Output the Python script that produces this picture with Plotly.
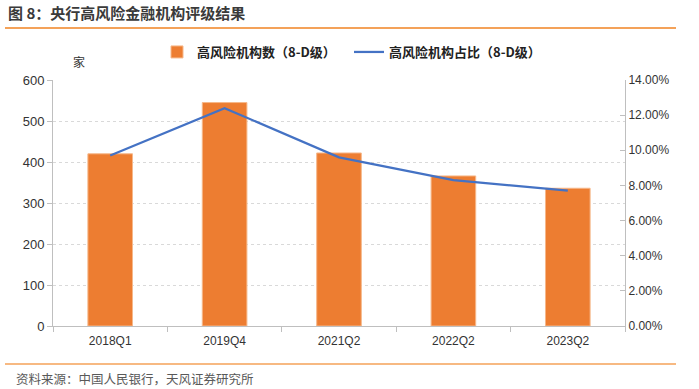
import plotly.graph_objects as go

categories = ["2018Q1", "2019Q4", "2021Q2", "2022Q2", "2023Q2"]
counts = [420, 545, 422, 366, 336]
ratios = [9.7, 12.4, 9.6, 8.3, 7.7]
left_ticks = [0, 100, 200, 300, 400, 500, 600]
right_ticks = [0, 2, 4, 6, 8, 10, 12, 14]
right_tick_labels = [f"{v:.2f}%" for v in right_ticks]

FONT = "Liberation Sans, Arial, Noto Sans CJK SC, sans-serif"
CJK = "Noto Sans CJK SC, Liberation Sans, sans-serif"
ORANGE = "#ED7D31"
BLUE = "#4472C4"
LINE_ORANGE = "#F4A259"

fig = go.Figure()
fig.add_trace(go.Bar(
    x=categories, y=counts, name="高风险机构数（8-D级）",
    marker=dict(color=ORANGE, line=dict(color="#F6B88A", width=1)),
    width=0.39, yaxis="y"
))
fig.add_trace(go.Scatter(
    x=categories, y=ratios, name="高风险机构占比（8-D级）",
    mode="lines", line=dict(color=BLUE, width=2.25), yaxis="y2"
))

L, R, T, B = 53, 625, 80, 326
W, H = R - L, B - T

def px(x):
    return (x - L) / W

def py(y):
    return (B - y) / H

fig.update_layout(
    width=699, height=389,
    margin=dict(l=L, r=699 - R, t=T, b=389 - B),
    paper_bgcolor="white", plot_bgcolor="white",
    font=dict(family=FONT, size=12, color="#333333"),
    showlegend=True,
    legend=dict(orientation="h", x=px(157), xanchor="left", y=py(52), yanchor="middle",
                font=dict(family=CJK, size=13, color="#222222", weight="bold"),
                entrywidth=147, entrywidthmode="pixels",
                itemwidth=30, tracegroupgap=0, bgcolor="rgba(0,0,0,0)"),
    xaxis=dict(
        type="category", tickson="boundaries", ticks="outside", ticklen=5,
        tickcolor="#BFBFBF", showline=True, linecolor="#BFBFBF", linewidth=1,
        tickfont=dict(family=FONT, size=12, color="#333333"), showgrid=False,
        ticklabelstandoff=4, range=[-0.5, 4.5]
    ),
    yaxis=dict(
        range=[0, 600], tickvals=left_ticks, ticks="outside", ticklen=5,
        tickcolor="#BFBFBF", showline=True, linecolor="#BFBFBF", linewidth=1,
        showgrid=True, gridcolor="#D9D9D9", griddash="dot", gridwidth=1,
        tickfont=dict(family=FONT, size=13, color="#333333"), zeroline=False
    ),
    yaxis2=dict(
        range=[0, 14], tickvals=right_ticks, ticktext=right_tick_labels,
        overlaying="y", side="right", ticks="inside", ticklen=5,
        tickcolor="#BFBFBF", showline=True, linecolor="#BFBFBF", linewidth=1,
        showgrid=False, zeroline=False,
        tickfont=dict(family=FONT, size=12, color="#333333")
    ),
    title=dict(text="<b>图 8：央行高风险金融机构评级结果</b>", x=8 / 699, xanchor="left",
               xref="container", y=1 - 14 / 389, yanchor="middle", yref="container",
               font=dict(family=CJK, size=15, color="#3A3A3A")),
    shapes=[
        dict(type="line", xref="paper", yref="paper", x0=px(5), x1=px(676), y0=py(28), y1=py(28),
             line=dict(color=LINE_ORANGE, width=2)),
        dict(type="line", xref="paper", yref="paper", x0=px(5), x1=px(676), y0=py(364), y1=py(364),
             line=dict(color=LINE_ORANGE, width=1.5)),
    ],
    annotations=[
        dict(text="家", xref="paper", yref="paper", x=px(79), y=py(62), showarrow=False,
             font=dict(family=CJK, size=12, color="#333333"), xanchor="center", yanchor="middle"),
        dict(text="资料来源：中国人民银行，天风证券研究所", xref="paper", yref="paper", x=px(14), y=py(378),
             showarrow=False, font=dict(family=CJK, size=12.5, color="#595959"),
             xanchor="left", yanchor="middle"),
    ],
)

fig.write_html("out.html", config={"displayModeBar": False},
               post_script="document.body.style.margin='0';document.body.style.overflow='hidden';")
